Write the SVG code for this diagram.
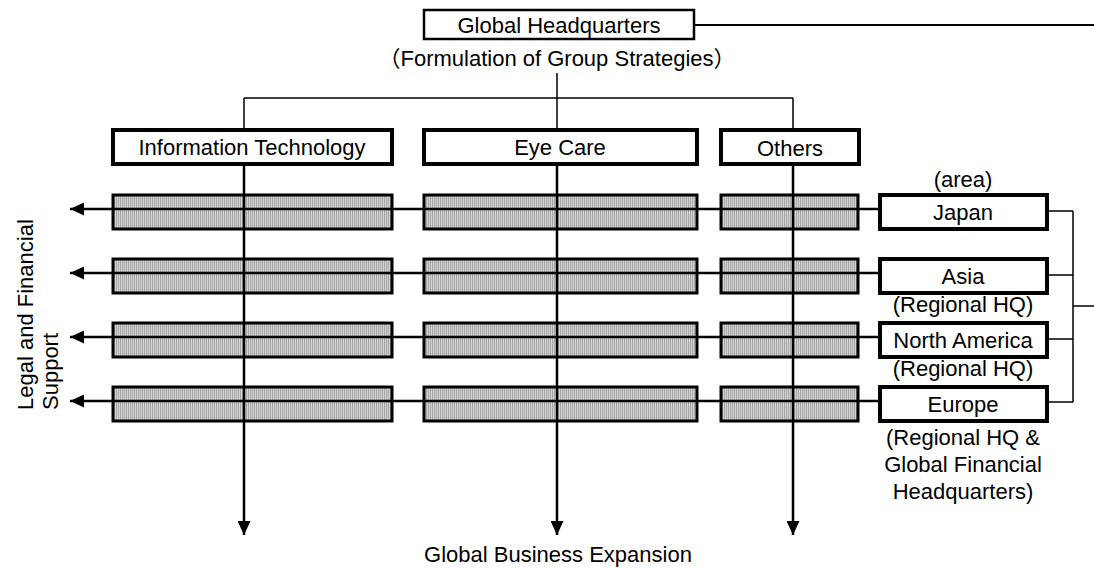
<svg xmlns="http://www.w3.org/2000/svg" width="1094" height="569" viewBox="0 0 1094 569">
<style>
text{font-family:"Liberation Sans","Noto Sans CJK JP",Arial,sans-serif;font-size:22px;fill:#000;text-anchor:middle}
.box{fill:#fff;stroke:#000;stroke-width:4}
.hq{fill:#fff;stroke:#000;stroke-width:2.5}
.bar{fill:url(#hatch);stroke:#000;stroke-width:3}
.thin{stroke:#000;stroke-width:1.5;fill:none}
.line{stroke:#000;stroke-width:2.5;fill:none}
</style>
<defs>
<pattern id="hatch" width="2" height="4" patternUnits="userSpaceOnUse">
<rect width="2" height="4" fill="#d4d4d4"/>
<rect width="1" height="4" fill="#a6a6a6"/>
</pattern>
<marker id="arr" markerWidth="14" markerHeight="13" refX="14" refY="6.5" orient="auto" markerUnits="userSpaceOnUse">
<path d="M0,0 L14,6.5 L0,13 z" fill="#000"/>
</marker>
</defs>
<rect width="1094" height="569" fill="#fff"/>

<g id="bars">
<rect class="bar" x="113" y="195" width="279" height="34"/>
<rect class="bar" x="424" y="195" width="273" height="34"/>
<rect class="bar" x="721" y="195" width="137" height="34"/>
<rect class="bar" x="113" y="259" width="279" height="34"/>
<rect class="bar" x="424" y="259" width="273" height="34"/>
<rect class="bar" x="721" y="259" width="137" height="34"/>
<rect class="bar" x="113" y="323" width="279" height="34"/>
<rect class="bar" x="424" y="323" width="273" height="34"/>
<rect class="bar" x="721" y="323" width="137" height="34"/>
<rect class="bar" x="113" y="387" width="279" height="34"/>
<rect class="bar" x="424" y="387" width="273" height="34"/>
<rect class="bar" x="721" y="387" width="137" height="34"/>
</g>

<g id="connectors">
<line class="line" x1="694" y1="25" x2="1094" y2="25" style="stroke-width:2"/>
<line class="thin" x1="557" y1="73" x2="557" y2="130"/>
<line class="thin" x1="244" y1="98" x2="793" y2="98"/>
<line class="thin" x1="244" y1="98" x2="244" y2="130"/>
<line class="thin" x1="793" y1="98" x2="793" y2="130"/>
<line class="line" x1="244" y1="165" x2="244" y2="535" marker-end="url(#arr)"/>
<line class="line" x1="557" y1="165" x2="557" y2="535" marker-end="url(#arr)"/>
<line class="line" x1="793" y1="165" x2="793" y2="535" marker-end="url(#arr)"/>
<line class="line" x1="880" y1="209" x2="70" y2="209" marker-end="url(#arr)"/>
<line class="line" x1="880" y1="273" x2="70" y2="273" marker-end="url(#arr)"/>
<line class="line" x1="880" y1="337" x2="70" y2="337" marker-end="url(#arr)"/>
<line class="line" x1="880" y1="401" x2="70" y2="401" marker-end="url(#arr)"/>
<path class="thin" d="M1047,211 H1073 M1047,275 H1073 M1047,339 H1073 M1047,402 H1073 M1073,211 V402 M1073,306 H1094"/>
</g>

<g id="global-hq">
<rect class="hq" x="424" y="10" width="270" height="29"/>
<text x="559" y="33">Global Headquarters</text>
<text x="557" y="66">（Formulation of Group Strategies）</text>
</g>

<g id="it">
<rect class="box" x="113" y="130" width="279" height="34"/>
<text x="252" y="155">Information Technology</text>
</g>
<g id="eye-care">
<rect class="box" x="424" y="130" width="273" height="34"/>
<text x="560" y="155">Eye Care</text>
</g>
<g id="others">
<rect class="box" x="721" y="130" width="138" height="34"/>
<text x="790" y="156">Others</text>
</g>

<g id="japan">
<text x="963" y="187">(area)</text>
<rect class="box" x="880" y="195" width="167" height="34"/>
<text x="963" y="220">Japan</text>
</g>
<g id="asia">
<rect class="box" x="880" y="259" width="167" height="34"/>
<text x="963" y="284">Asia</text>
<text x="963" y="312">(Regional HQ)</text>
</g>
<g id="north-america">
<rect class="box" x="880" y="323" width="167" height="34"/>
<text x="963" y="348">North America</text>
<text x="963" y="376">(Regional HQ)</text>
</g>
<g id="europe">
<rect class="box" x="880" y="387" width="167" height="34"/>
<text x="963" y="412">Europe</text>
<text x="963" y="445">(Regional HQ &amp;</text>
<text x="963" y="472">Global Financial</text>
<text x="963" y="499">Headquarters)</text>
</g>

<g id="legal">
<text transform="translate(33,410) rotate(-90)" style="text-anchor:start">Legal and Financial</text>
<text transform="translate(58,410) rotate(-90)" style="text-anchor:start">Support</text>
</g>

<g id="expansion">
<text x="558" y="562">Global Business Expansion</text>
</g>
</svg>
